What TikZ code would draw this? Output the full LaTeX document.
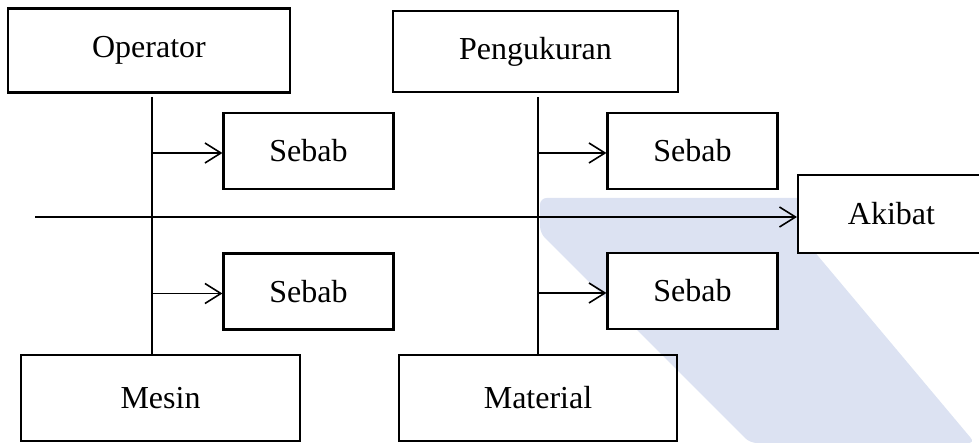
\documentclass[tikz,border=0pt]{standalone}
\usepackage{fontspec}
\setmainfont{Liberation Serif}
\usetikzlibrary{arrows.meta}
\definecolor{wmblue}{RGB}{220,226,242}

\begin{document}
\begin{tikzpicture}[x=0.375pt, y=-0.375pt, font=\fontsize{12}{14}\selectfont,
    box/.style={draw, line width=0.8pt, fill=white, inner sep=0pt},
    bigbox/.style={box, minimum width=105pt, minimum height=31.5pt},
    sebab/.style={box, minimum width=63.75pt, minimum height=28.5pt},
    spine/.style={line width=0.6pt},
    >={Straight Barb[length=6pt, width=7.5pt]}]
    \useasboundingbox (0,0) rectangle (979,443);
    % watermark in the background
    \fill[wmblue, rounded corners=2.5pt] (540,198) -- (813,198) -- (813,250) -- (975,443) -- (750,443) -- (540,233) -- cycle;

    \node (operator) at (149,50.5) [bigbox, minimum width=105.75pt] {Operator};
    \node (pengukuran) at (535.5,51.5) [bigbox, minimum width=106.9pt, minimum height=30.4pt] {Pengukuran};
    \node (mesin) at (160.5,398) [bigbox, minimum width=104.6pt, minimum height=32.25pt] {Mesin};
    \node (material) at (538,398) [bigbox, minimum width=104.25pt, minimum height=32.25pt, fill=none] {Material};
    \node (akibat) at (891.5,214) [box, minimum width=70.1pt, minimum height=29.25pt] {Akibat};

    \node (sebab1) at (308.5,151) [sebab] {Sebab};
    \node (sebab2) at (308.5,291.5) [sebab] {Sebab};
    \node (sebab3) at (692.5,151) [sebab] {Sebab};
    \node (sebab4) at (692.5,291) [sebab] {Sebab};

    \coordinate (opline) at (152,97);
    \coordinate (maline) at (538,97);
    \coordinate (tail) at (35,217);
    \draw[spine] (opline) -- (opline |- mesin.north);
    \draw[spine] (maline) -- (maline |- material.north);
    \foreach \l/\s in {opline/sebab1, opline/sebab2, maline/sebab3, maline/sebab4}
        \draw[spine, ->] ([yshift=-0.75pt]\l |- \s.west) -- ([yshift=-0.75pt]\s.west);
    \draw[spine, ->] (tail) -- (tail -| akibat.west);
\end{tikzpicture}
\end{document}
